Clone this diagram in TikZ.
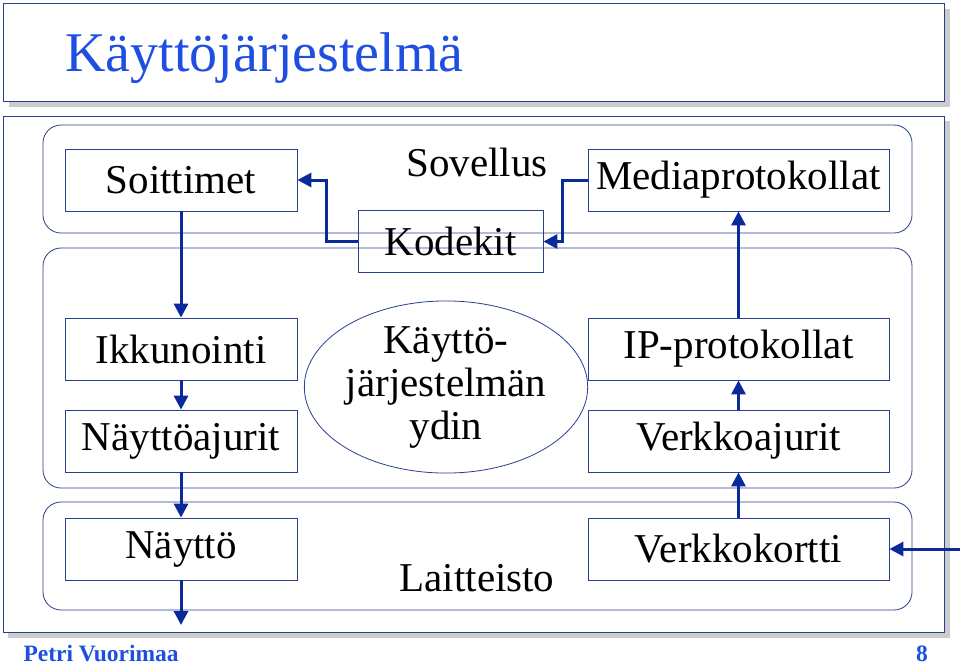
\documentclass[tikz,border=0pt]{standalone}
\usepackage{fontspec}
\setmainfont{Liberation Serif}
\usetikzlibrary{arrows.meta,shapes.geometric}
\definecolor{fr}{HTML}{2A3F8F}
\definecolor{ar}{HTML}{0A2A9A}
\definecolor{tb}{HTML}{1F4FE0}
\begin{document}
\begin{tikzpicture}[x=1pt,y=-1pt,
 lbl/.style={font=\fontsize{41}{43}\selectfont},
 box/.style={lbl,draw=fr,line width=0.8pt,minimum width=232pt,minimum height=62pt,inner sep=0pt},
 layer/.style={draw=fr,line width=0.8pt,rounded corners=18pt},
 arr/.style={draw=ar,line width=3pt,-{Triangle[length=14pt,width=14pt]}}]
\useasboundingbox (0,0) rectangle (960,665);
% title box
\fill[gray!40] (9,9) rectangle (950,107);
\node[draw=fr,fill=white,line width=0.8pt,minimum width=941pt,minimum height=98pt,anchor=north west] (tbox) at (3,3) {};
\node[anchor=west,text=tb,font=\fontsize{56}{58}\selectfont] (title) at (62,58) {Käyttöjärjestelmä};
% main
\fill[gray!40] (8,121) rectangle (950,638);
\node[draw=fr,fill=white,line width=0.8pt,minimum width=941pt,minimum height=516pt,anchor=north west] (mbox) at (3,116) {};
\draw[layer] (43,125) rectangle (912,233);
\draw[layer] (43,248) rectangle (912,488);
\draw[layer] (43,502) rectangle (912,610);
\node[lbl] (sov) at (477,162) {Sovellus};
\node[lbl] (lai) at (477,578) {Laitteisto};
\node[box] (soi) at (181,180) {Soittimet};
\node[box,minimum width=185pt] (kod) at (450.5,241.5) {Kodekit};
\node[box,minimum width=301pt] (med) at (738.5,180) {Mediaprotokollat};
\node[box] (ikk) at (181,349) {Ikkunointi};
\node[box] (nay) at (181,441) {Näyttöajurit};
\node[box] (nae) at (181,549) {Näyttö};
\node[box,minimum width=301pt] (ip) at (738.5,349) {IP-protokollat};
\node[box,minimum width=301pt] (ver) at (738.5,441) {Verkkoajurit};
\node[box,minimum width=301pt] (vk) at (738.5,549) {Verkkokortti};
\node[draw=fr,line width=0.8pt,ellipse,minimum width=238pt,minimum height=170pt,inner sep=0pt,align=center,font=\fontsize{41}{43}\selectfont] (ydin) at (446,387) {Käyttö-\\järjestelmän\\ydin};
\coordinate (out) at (181,625);
\coordinate (in) at (960,549);
% arrows
\draw[arr] (soi) -- (ikk);
\draw[arr] (ikk) -- (nay);
\draw[arr] (nay) -- (nae);
\draw[arr] (nae) -- (out);
\draw[arr] (kod.west) -- ++(-31,0) |- (soi.east);
\draw[arr] (med.west) -- ++(-25,0) |- (kod.east);
\draw[arr] (ip) -- (med);
\draw[arr] (ver) -- (ip);
\draw[arr] (vk) -- (ver);
\draw[arr] (in) -- (vk.east);
% footer
\node[anchor=west,text=tb,font=\bfseries\fontsize{23.5}{25}\selectfont] (auth) at (20,654) {Petri Vuorimaa};
\node[text=tb,font=\bfseries\fontsize{23.5}{25}\selectfont] (pg) at (922,654) {8};
\end{tikzpicture}
\end{document}
